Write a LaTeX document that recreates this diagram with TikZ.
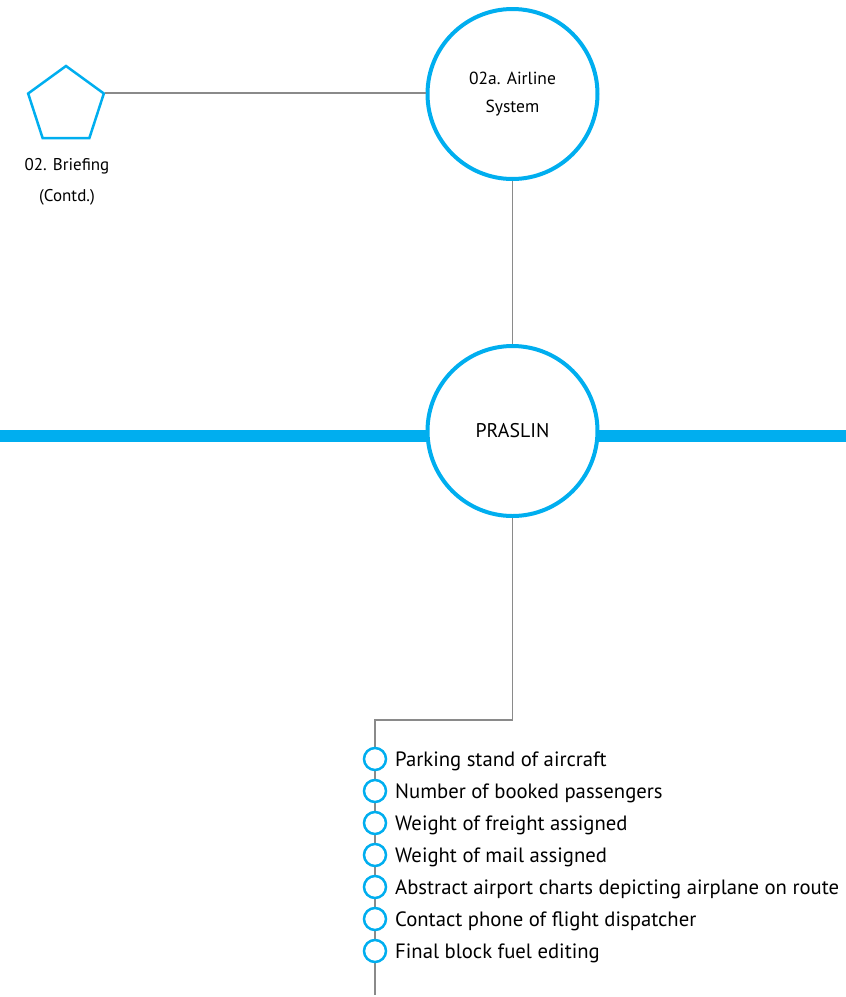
\documentclass[tikz,border=0pt]{standalone}
\usepackage{fontspec}
\setmainfont{PT Sans}
\usetikzlibrary{shapes.geometric}
\definecolor{cblue}{HTML}{00AEEF}
\definecolor{cgray}{HTML}{8A8A8A}
\tikzset{
  bigcirc/.style={circle, draw=cblue, line width=4pt, fill=white, minimum size=170pt, inner sep=0pt, align=center, font=\fontsize{17.5}{28}\selectfont},
  smallcirc/.style={circle, draw=cblue, line width=2.5pt, fill=white, minimum size=22pt, inner sep=0pt},
  item/.style={anchor=west, inner sep=0pt, font=\fontsize{20.7}{24}\selectfont},
  link/.style={draw=cgray, line width=1.2pt},
  pent/.style={regular polygon, regular polygon sides=5, draw=cblue, line width=2.5pt, minimum size=79.6pt, inner sep=0pt},
  lbl/.style={align=center, font=\fontsize{17}{31}\selectfont, inner sep=0pt}
}
\begin{document}
\begin{tikzpicture}[x=1pt,y=-1pt]
\useasboundingbox (0,0) rectangle (846,997);
% thick band
\coordinate (bl) at (0,436);
\coordinate (br) at (846,436);
\draw[cblue, line width=12pt] (bl) -- (br);
% nodes
\node[pent] (brief) at (66,105.8) {};
\node[lbl] (brieflbl) at (67,182) {02. Briefing\\(Contd.)};
\node[bigcirc] (airline) at (512.5,94) {02a. Airline\\System};
\node[bigcirc, font=\fontsize{19.8}{24}\selectfont] (praslin) at (512.5,431) {PRASLIN};
\coordinate (c1) at (512.5,720);
\coordinate (c2) at (375,720);
\coordinate (cend) at (375,995);
% connectors
\path[link] (brief.corner 5) -- (brief.corner 5 -| airline.west);
\path[link] (airline.south) -- (praslin.north);
\path[link] (praslin.south) -- (c1) -- (c2) -- (cend);
% items
\foreach \i/\t [count=\n] in {759/Parking stand of aircraft,791/Number of booked passengers,823/Weight of freight assigned,855/Weight of mail assigned,887/Abstract airport charts depicting airplane on route,919/Contact phone of flight dispatcher,951/Final block fuel editing}{
  \node[smallcirc] (s\n) at (375,\i) {};
  \node[item] (t\n) at (395,\i+2) {\t};
}
\end{tikzpicture}
\end{document}
